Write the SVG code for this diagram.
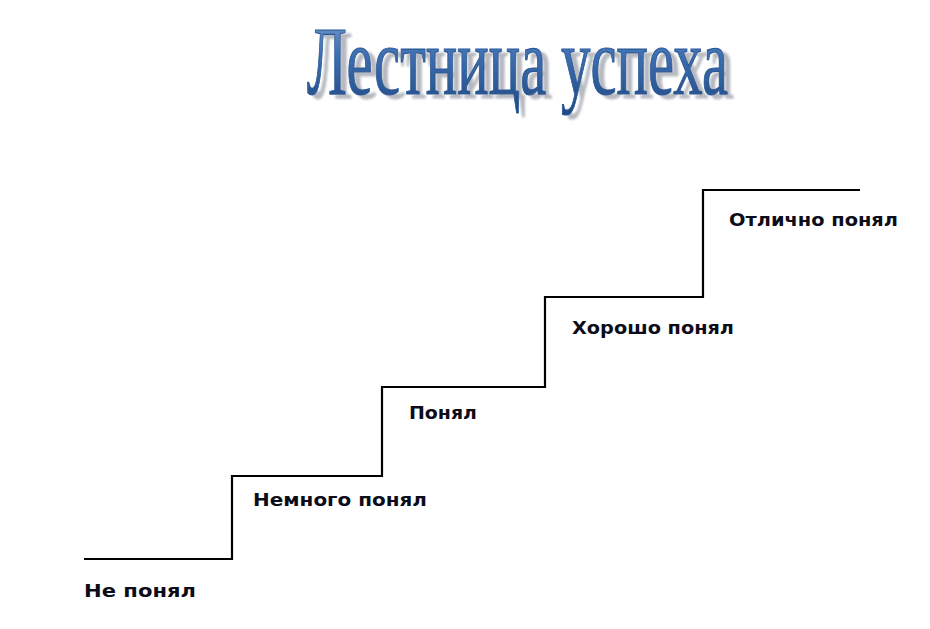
<svg xmlns="http://www.w3.org/2000/svg" width="930" height="629" viewBox="0 0 930 629">
<style>
.step{font-family:"DejaVu Sans","Liberation Sans",sans-serif;font-weight:bold;font-size:17.5px;fill:#0d0d1a}
.title{font-family:"Liberation Serif","Times New Roman",serif;font-size:98px}
.stair{fill:none;stroke:#000;stroke-width:2.2}
</style>
<defs>
<linearGradient id="tg" x1="0" y1="0" x2="0" y2="1">
<stop offset="0" stop-color="#7ea6d6"/>
<stop offset="0.45" stop-color="#3d6eb0"/>
<stop offset="1" stop-color="#1d4882"/>
</linearGradient>
<filter id="sh" filterUnits="userSpaceOnUse" x="280" y="0" width="490" height="150">
<feDropShadow dx="6" dy="4" stdDeviation="1.2" flood-color="#a9adb5" flood-opacity="0.85"/>
</filter>
</defs>
<rect width="930" height="629" fill="#fff"/>
<g id="title">
<text class="title" x="307" y="94" fill="url(#tg)" stroke="#2a5896" stroke-width="1.2" filter="url(#sh)" textLength="421" lengthAdjust="spacingAndGlyphs">Лестница успеха</text>
</g>
<g id="connectors">
<path class="stair" d="M84 559 H232 V476 H382 V387 H545 V297 H703 V190 H860"/>
</g>
<g id="step1"><text class="step" x="84" y="597" textLength="112" lengthAdjust="spacingAndGlyphs">Не понял</text></g>
<g id="step2"><text class="step" x="253" y="506" textLength="174" lengthAdjust="spacingAndGlyphs">Немного понял</text></g>
<g id="step3"><text class="step" x="409" y="419" textLength="68" lengthAdjust="spacingAndGlyphs">Понял</text></g>
<g id="step4"><text class="step" x="572" y="334" textLength="162" lengthAdjust="spacingAndGlyphs">Хорошо понял</text></g>
<g id="step5"><text class="step" x="729" y="226" textLength="169" lengthAdjust="spacingAndGlyphs">Отлично понял</text></g>
</svg>
